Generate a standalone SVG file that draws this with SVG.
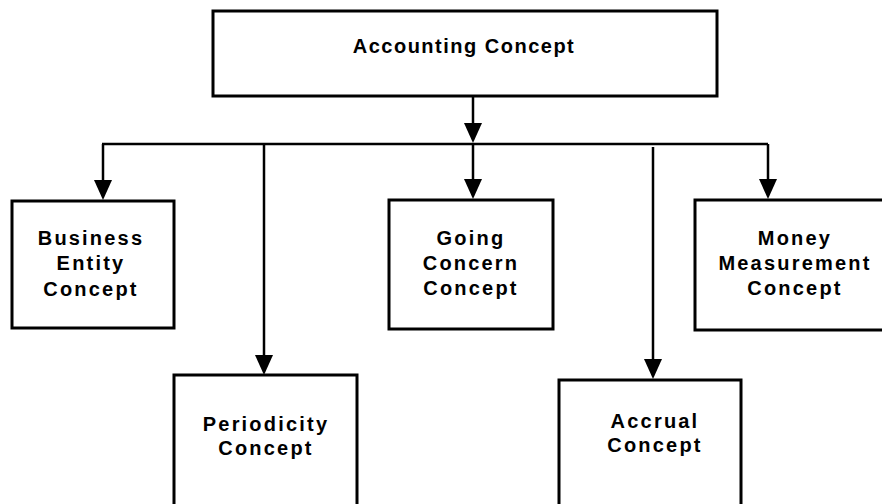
<svg xmlns="http://www.w3.org/2000/svg" width="882" height="504" viewBox="0 0 882 504">
<style>
.box{fill:#fff;stroke:#000;stroke-width:3}
.lbl{font-family:"Liberation Sans",Arial,sans-serif;font-weight:bold;font-size:20px;fill:#000;text-anchor:middle;letter-spacing:2.2px}
.top{letter-spacing:1.5px}
.ln{stroke:#000;stroke-width:2.5;fill:none}
</style>
<defs>
<marker id="arr" markerWidth="20" markerHeight="18" refX="10" refY="9" orient="auto" markerUnits="userSpaceOnUse" viewBox="0 0 20 18">
<path d="M0,0 L20,9 L0,18 Z" fill="#000"/>
</marker>
</defs>
<rect width="882" height="504" fill="#fff"/>
<g id="connectors">
<line class="ln" x1="473" y1="96" x2="473" y2="133" marker-end="url(#arr)"/>
<line class="ln" x1="102" y1="144" x2="768" y2="144"/>
<line class="ln" x1="103" y1="144" x2="103" y2="190" marker-end="url(#arr)"/>
<line class="ln" x1="473" y1="144" x2="473" y2="189" marker-end="url(#arr)"/>
<line class="ln" x1="768" y1="144" x2="768" y2="189" marker-end="url(#arr)"/>
<line class="ln" x1="264" y1="144" x2="264" y2="365" marker-end="url(#arr)"/>
<line class="ln" x1="653" y1="147" x2="653" y2="369" marker-end="url(#arr)"/>
</g>
<g id="accounting">
<rect class="box" x="213" y="11" width="504" height="85"/>
<text class="lbl top" x="464" y="53">Accounting Concept</text>
</g>
<g id="business">
<rect class="box" x="12" y="201" width="162" height="127"/>
<text class="lbl" x="91" y="245">Business</text>
<text class="lbl" x="91" y="270">Entity</text>
<text class="lbl" x="91" y="296">Concept</text>
</g>
<g id="going">
<rect class="box" x="389" y="200" width="164" height="129"/>
<text class="lbl" x="471" y="245">Going</text>
<text class="lbl" x="471" y="270">Concern</text>
<text class="lbl" x="471" y="295">Concept</text>
</g>
<g id="money">
<rect class="box" x="695" y="200" width="198" height="130"/>
<text class="lbl" x="795" y="245">Money</text>
<text class="lbl" x="795" y="270">Measurement</text>
<text class="lbl" x="795" y="295">Concept</text>
</g>
<g id="periodicity">
<rect class="box" x="174" y="375" width="183" height="140"/>
<text class="lbl" x="266" y="431">Periodicity</text>
<text class="lbl" x="266" y="455">Concept</text>
</g>
<g id="accrual">
<rect class="box" x="559" y="380" width="182" height="140"/>
<text class="lbl" x="655" y="428">Accrual</text>
<text class="lbl" x="655" y="452">Concept</text>
</g>
</svg>
